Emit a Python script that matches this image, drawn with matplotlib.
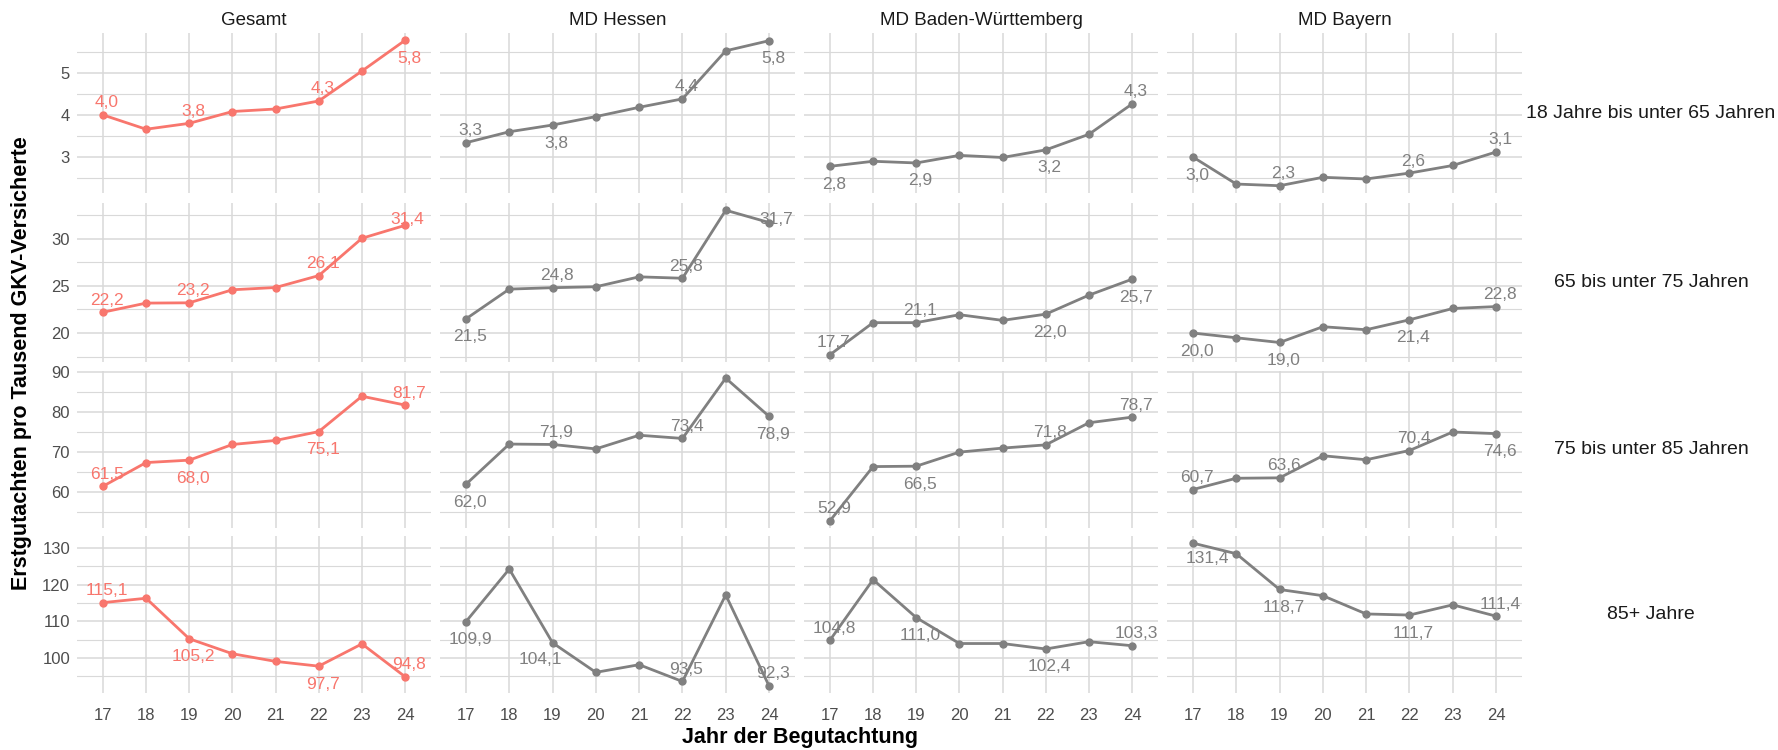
import numpy as np
import matplotlib
matplotlib.use("Agg")
from matplotlib import pyplot as plt
from matplotlib.ticker import MultipleLocator

plt.rcParams['font.family'] = ['Liberation Sans', 'DejaVu Sans']

# ---- data ----
years = [17, 18, 19, 20, 21, 22, 23, 24]
regions = ["Gesamt", "MD Hessen", "MD Baden-Württemberg", "MD Bayern"]
age_groups = ["18 Jahre bis unter 65 Jahren", "65 bis unter 75 Jahren",
              "75 bis unter 85 Jahren", "85+ Jahre"]

# 18 bis unter 65
a18_gesamt = [4.00, 3.66, 3.80, 4.08, 4.14, 4.33, 5.04, 5.77]
a18_hessen = [3.34, 3.60, 3.76, 3.96, 4.18, 4.38, 5.52, 5.76]
a18_bw     = [2.78, 2.90, 2.86, 3.04, 2.99, 3.17, 3.54, 4.26]
a18_bayern = [3.00, 2.36, 2.32, 2.52, 2.48, 2.62, 2.80, 3.12]
# 65 bis unter 75
a65_gesamt = [22.2, 23.17, 23.2, 24.58, 24.82, 26.08, 30.03, 31.4]
a65_hessen = [21.5, 24.65, 24.8, 24.9, 25.95, 25.8, 33.0, 31.7]
a65_bw     = [17.7, 21.1, 21.1, 21.94, 21.34, 22.0, 24.01, 25.7]
a65_bayern = [20.0, 19.5, 19.0, 20.67, 20.35, 21.4, 22.6, 22.8]
# 75 bis unter 85
a75_gesamt = [61.5, 67.4, 68.0, 71.9, 72.9, 75.1, 83.9, 81.7]
a75_hessen = [62.0, 72.0, 71.9, 70.8, 74.2, 73.4, 88.4, 78.9]
a75_bw     = [52.9, 66.4, 66.5, 70.0, 71.0, 71.8, 77.3, 78.7]
a75_bayern = [60.7, 63.5, 63.6, 69.1, 68.1, 70.4, 75.0, 74.6]
# 85+
a85_gesamt = [115.1, 116.3, 105.2, 101.1, 99.0, 97.7, 103.8, 94.8]
a85_hessen = [109.9, 124.3, 104.1, 96.0, 98.1, 93.5, 117.2, 92.3]
a85_bw     = [104.8, 121.4, 111.0, 103.9, 103.9, 102.4, 104.4, 103.3]
a85_bayern = [131.4, 128.5, 118.7, 117.0, 112.0, 111.7, 114.5, 111.4]

grid_data = [
    [a18_gesamt, a18_hessen, a18_bw, a18_bayern],
    [a65_gesamt, a65_hessen, a65_bw, a65_bayern],
    [a75_gesamt, a75_hessen, a75_bw, a75_bayern],
    [a85_gesamt, a85_hessen, a85_bw, a85_bayern],
]
labelled = [0, 2, 5, 7]   # index of years 17, 19, 22, 24

# label placement: 1 = above, -1 = below
place = [
    [[1, 1, 1, -1], [1, -1, 1, -1], [-1, -1, -1, 1], [-1, 1, 1, 1]],
    [[1, 1, 1, 1], [-1, 1, 1, 1], [1, 1, -1, -1], [-1, -1, -1, 1]],
    [[1, -1, -1, 1], [-1, 1, 1, -1], [1, -1, 1, 1], [1, 1, 1, -1]],
    [[1, -1, -1, 1], [-1, -1, 1, 1], [1, -1, -1, 1], [-1, -1, -1, 1]],
]
special = {(1, 0, 7): (2, 6), (1, 1, 7): (7, 3), (3, 1, 2): (-12, -17),
           (3, 3, 0): (14, -15)}

row_pix = [(33, 193), (203, 362), (371, 528), (536, 693)]
col_pix = [(77, 431), (440, 795), (804, 1158), (1167, 1522)]
W, H = 1778, 750
major = [1, 5, 10, 10]

red = '#F8766D'
grey = '#808080'
gridc = '#D9D9D9'

fig = plt.figure(figsize=(W / 100, H / 100), dpi=100)

for r in range(4):
    allv = np.concatenate([np.array(v) for v in grid_data[r]])
    lo, hi = allv.min(), allv.max()
    pad = (hi - lo) * 0.05
    for c in range(4):
        x0, x1 = col_pix[c]
        y0, y1 = row_pix[r]
        ax = fig.add_axes([x0 / W, 1 - y1 / H, (x1 - x0) / W, (y1 - y0) / H])
        vals = grid_data[r][c]
        col = red if c == 0 else grey
        ax.plot(years, vals, color=col, lw=2.0, marker='o', ms=5, zorder=3)
        for k, i in enumerate(labelled):
            s = place[r][c][k]
            off = special.get((r, c, i), (4, 12) if s > 0 else (4, -18))
            ax.annotate(f"{vals[i]:.1f}".replace('.', ','), (years[i], vals[i]),
                        xytext=off, textcoords='offset pixels', ha='center',
                        va='center', color=col, fontsize=12.5, zorder=4)
        ax.set_xlim(16.4, 24.6)
        ax.set_ylim(lo - pad, hi + pad)
        ax.set_xticks(years)
        ax.yaxis.set_major_locator(MultipleLocator(major[r]))
        ax.yaxis.set_minor_locator(MultipleLocator(major[r] / 2))
        ax.grid(True, which='major', color=gridc, lw=1.1, zorder=0)
        ax.grid(True, which='minor', axis='y', color=gridc, lw=0.8, zorder=0)
        for sp in ax.spines.values():
            sp.set_visible(False)
        ax.tick_params(length=0, which='both', labelsize=12, colors='#4D4D4D', pad=5)
        ax.tick_params(axis='x', pad=11)
        if c != 0:
            ax.set_yticklabels([])
        if r != 3:
            ax.set_xticklabels([])
        if r == 0:
            ax.set_title(regions[c], fontsize=13.5, color='#1A1A1A', pad=6)
        if c == 3:
            fig.text(1651 / W, 1 - (y0 + y1) / 2 / H, age_groups[r], ha='center',
                     va='center', fontsize=14, color='#1A1A1A')

fig.text(22 / W, 1 - 363 / H, "Erstgutachten pro Tausend GKV-Versicherte",
         rotation=90, ha='center', va='center', fontsize=15.5, fontweight='bold')
fig.text(800 / W, 1 - 737 / H, "Jahr der Begutachtung", ha='center', va='center',
         fontsize=15.5, fontweight='bold')

fig.savefig("out.png", dpi=100)
